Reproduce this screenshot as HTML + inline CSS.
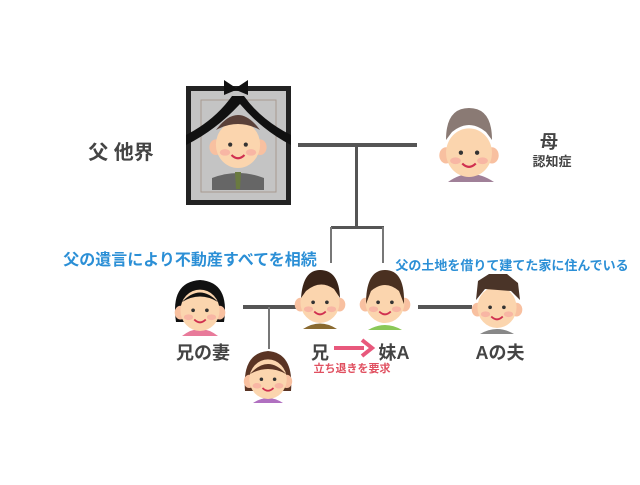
<!DOCTYPE html>
<html><head><meta charset="utf-8"><style>
body{margin:0;background:#fff;width:640px;height:480px;overflow:hidden}
text{font-family:"Liberation Sans","Noto Sans CJK JP",sans-serif;font-weight:bold}
</style></head><body>
<svg width="640" height="480" viewBox="0 0 640 480" xmlns="http://www.w3.org/2000/svg">
<defs>
<g id="face">
<ellipse cx="-17" cy="4" rx="5" ry="6" fill="#f8c0a0"/>
<ellipse cx="17" cy="4" rx="5" ry="6" fill="#f8c0a0"/>
<ellipse cx="0" cy="2" rx="17" ry="18" fill="#fbd5ae"/>
<circle cx="-6" cy="2" r="1.6" fill="#333"/><circle cx="6" cy="2" r="1.6" fill="#333"/>
<ellipse cx="-10" cy="8" rx="4" ry="2.5" fill="#f6a8a0" opacity=".7"/><ellipse cx="10" cy="8" rx="4" ry="2.5" fill="#f6a8a0" opacity=".7"/>
<path d="M-5 10 Q0 15 5 10" stroke="#d03050" stroke-width="1.6" fill="none"/>
</g>
</defs>
<!-- portrait -->
<rect x="186" y="86" width="105" height="119" fill="#222"/>
<rect x="191" y="91" width="95" height="109" fill="#c4c4c4"/>
<rect x="201" y="100" width="75" height="92" fill="none" stroke="#a89a90" stroke-width="1"/>
<path d="M212 190 L212 178 Q238 168 264 178 L264 190Z" fill="#666"/>
<path d="M235 172 L241 172 L240 189 L236 189Z" fill="#6a7a40"/>
<g transform="translate(238,142) scale(1.3)"><use href="#face"/></g>
<path d="M216 130 Q238 100 260 130 Q238 118 216 130Z" fill="#5a4038"/>
<path d="M186 135 Q215 120 232 96 L244 96 Q261 120 291 135 L291 145 Q262 130 240 104 Q216 130 186 145Z" fill="#111"/>
<path d="M224 80 L236 88 L248 80 L248 95 L236 90 L224 95Z" fill="#111"/>
<!-- lines -->
<g fill="#555">
<rect x="298" y="143" width="119" height="4"/>
<rect x="355" y="145" width="3" height="83"/>
<rect x="331" y="226" width="53" height="3"/>
<rect x="243" y="305" width="54" height="4"/>
<rect x="418" y="305" width="54" height="4"/>
</g>
<rect x="330" y="227" width="2" height="36" fill="#777"/>
<rect x="382" y="227" width="2" height="36" fill="#777"/>
<rect x="268" y="307" width="2" height="42" fill="#777"/>
<!-- mother -->
<path d="M448 182 Q470 166 494 182Z" fill="#a08098"/>
<g transform="translate(469,150) scale(1.35)"><use href="#face"/></g>
<path d="M446 140 Q446 108 469 108 Q492 108 492 140 L486 132 Q469 118 452 132Z" fill="#8a7a74"/>
<!-- wife -->
<path d="M182 336 Q200 322 218 336Z" fill="#e87a9a"/>
<path d="M176 322 Q170 282 200 280 Q230 282 224 322 Z" fill="#111"/>
<g transform="translate(200,308) scale(1.15)"><use href="#face"/></g>
<path d="M182 302 Q200 283 218 302 Q200 291 182 302Z" fill="#111"/>
<!-- brother -->
<path d="M303 329 Q320 318 337 329Z" fill="#8a6a30"/>
<g transform="translate(320,300) scale(1.15)"><use href="#face"/></g>
<path d="M301 298 Q303 270 320 270 Q339 270 340 298 L334 289 Q320 279 306 291Z" fill="#3a2418"/>
<!-- sister -->
<path d="M368 330 Q385 320 402 330Z" fill="#8ac858"/>
<g transform="translate(385,300) scale(1.15)"><use href="#face"/></g>
<path d="M366 304 Q366 270 385 270 Q405 270 404 304 L399 291 Q385 279 371 291Z" fill="#4a3020"/>
<!-- husband -->
<path d="M480 334 Q497 324 514 334Z" fill="#888"/>
<g transform="translate(497,305) scale(1.15)"><use href="#face"/></g>
<path d="M476 300 L478 281 L489 274 L507 274 L518 283 L520 300 L511 291 L485 289Z" fill="#4a3428"/>
<!-- child -->
<path d="M253 403 Q268 393 283 403Z" fill="#b070c0"/>
<path d="M245 391 Q242 353 268 351 Q294 353 291 391Z" fill="#5a3424"/>
<g transform="translate(268,377) scale(1.1)"><use href="#face"/></g>
<path d="M250 374 Q268 354 286 374 Q268 364 250 374Z" fill="#5a3424"/>
<!-- texts -->
<text x="121" y="159" font-size="20" fill="#444" text-anchor="middle">父 他界</text>
<text x="549" y="148" font-size="18" fill="#444" text-anchor="middle">母</text>
<text x="552" y="166" font-size="13" fill="#444" text-anchor="middle">認知症</text>
<text x="190" y="265" font-size="16" fill="#2b8fd6" text-anchor="middle">父の遺言により不動産すべてを相続</text>
<text x="512" y="270" font-size="13" fill="#2b8fd6" text-anchor="middle">父の土地を借りて建てた家に住んでいる</text>
<g font-size="18" fill="#444" text-anchor="middle">
<text x="203" y="359">兄の妻</text>
<text x="320" y="359">兄</text>
<text x="394" y="359">妹A</text>
<text x="500" y="359">Aの夫</text>
</g>
<rect x="334" y="346" width="30" height="4" fill="#e8587c"/>
<path d="M362 340 L372 348 L362 356" stroke="#e8587c" stroke-width="4" fill="none"/>
<text x="352" y="372" font-size="11" fill="#e05060" font-weight="normal" text-anchor="middle">立ち退きを要求</text>
</svg>
</body></html>
